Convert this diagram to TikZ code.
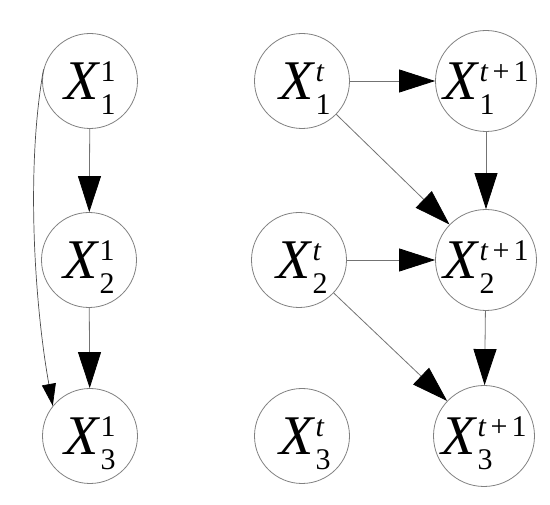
\documentclass[tikz,border=0pt]{standalone}
\usepackage{fontspec}
\setmainfont{Liberation Serif}
\usetikzlibrary{arrows.meta}
\newcommand\Xvar[2]{\raisebox{0pt}[40pt][2pt]{{\fontsize{56}{56}\selectfont\itshape X}\kern2pt\rlap{\raisebox{-15pt}{\fontsize{30}{30}\selectfont #2}}\raisebox{18pt}{\fontsize{30}{30}\selectfont #1}}}
\newcommand\tp{\textit{t}\kern4pt+\kern4pt1}
\begin{document}
\begin{tikzpicture}[x=1pt,y=-1pt,
  var/.style={circle,draw=black!50,line width=0.8pt,inner sep=0pt,minimum size=95pt},
  varb/.style={var,minimum size=101pt},
  edge/.style={draw=black!55,line width=0.8pt,-{Triangle[length=36pt,width=23pt,color=black]}},
  thin edge/.style={draw=black!70,line width=0.7pt,-{Triangle[length=22pt,width=14pt,color=black]}}]
\useasboundingbox (0,0) rectangle (550,505);
\node[var] (a1) at (90,81) {\Xvar{1}{1}};
\node[var] (a2) at (89,260) {\Xvar{1}{2}};
\node[var] (a3) at (90,436) {\Xvar{1}{3}};
\node[var] (b1) at (302,81) {\Xvar{\textit{t}}{1}};
\node[var] (b2) at (299,260) {\Xvar{\textit{t}}{2}};
\node[var] (b3) at (302,436) {\Xvar{\textit{t}}{3}};
\node[varb] (c1) at (486,81) {\Xvar{\tp}{1}};
\node[varb] (c2) at (486,260) {\Xvar{\tp}{2}};
\node[varb] (c3) at (484,436) {\Xvar{\tp}{3}};
\draw[edge] (a1) -- (a2);
\draw[edge] (a2) -- (a3);
\draw[thin edge] (a1.166) .. controls +(-18,100) and +(-18,-100) .. (a3.141);
\draw[edge] (b1) -- (c1);
\draw[edge] (b1) -- (c2);
\draw[edge] (b2) -- (c2);
\draw[edge] (b2) -- (c3);
\draw[edge] (c1) -- (c2);
\draw[edge] (c2) -- (c3);
\end{tikzpicture}
\end{document}
